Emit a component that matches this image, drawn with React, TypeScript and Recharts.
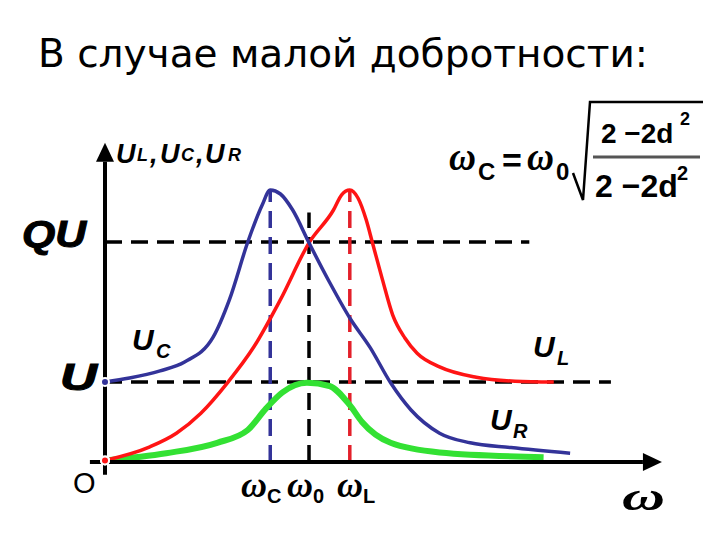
import { ComposedChart, Line, XAxis, YAxis, ReferenceLine } from "recharts";

// frequency axis: ω / ω0 ; voltage axis: U_x / U
const ucW = [0, 0.12, 0.27, 0.39, 0.53, 0.61, 0.7, 0.77, 0.81, 0.86, 0.92, 1.0, 1.1, 1.2, 1.3, 1.4, 1.5, 1.64, 1.79, 1.99, 2.28];
const ucU = [1.0, 1.05, 1.14, 1.25, 1.56, 2.03, 2.75, 3.21, 3.4, 3.35, 3.15, 2.74, 2.25, 1.8, 1.43, 0.99, 0.65, 0.36, 0.24, 0.18, 0.11];

const ulW = [0, 0.22, 0.35, 0.47, 0.6, 0.73, 0.86, 1.0, 1.12, 1.16, 1.2, 1.24, 1.28, 1.31, 1.36, 1.41, 1.47, 1.53, 1.64, 1.82, 2.01, 2.2];
const ulU = [0.02, 0.19, 0.36, 0.61, 0.99, 1.44, 2.03, 2.74, 3.15, 3.34, 3.4, 3.3, 3.03, 2.75, 2.28, 1.84, 1.55, 1.36, 1.19, 1.06, 1.01, 1.0];

const urW = [0, 0.3, 0.55, 0.7, 0.79, 0.87, 0.99, 1.1, 1.2, 1.26, 1.4, 1.64, 2.15];
const urU = [0.02, 0.11, 0.24, 0.4, 0.67, 0.87, 0.99, 0.95, 0.71, 0.5, 0.24, 0.12, 0.06];

// levels U and QU, and where their dashed guides end
const levelU = [1, 2.75];
const levelEnd = [2.48, 2.08];

// ωC, ω0, ωL and the height of their dashed guides
const freqs = [0.81, 1.0, 1.2];
const freqTop = [3.4, 3.12, 3.4];
const freqColors = ["#333399", "#000000", "#e3202a"];

const zip = (w: number[], u: number[]) => w.map((x, i) => ({ w: x, u: u[i] }));
const ucData = zip(ucW, ucU);
const ulData = zip(ulW, ulU);
const urData = zip(urW, urU);

// pixel mapping of the plot (origin at 105,462; 204 px per ω0, 80 px per U)
const X_DOMAIN = [-105 / 204, (720 - 105) / 204];
const Y_DOMAIN = [-(540 - 462) / 80, 462 / 80];

const Arrow = (props: any) => {
  const { x1, y1, x2, y2 } = props;
  const dx = x2 - x1;
  const dy = y2 - y1;
  const len = Math.hypot(dx, dy) || 1;
  const ux = dx / len;
  const uy = dy / len;
  const head = 19;
  const half = 9;
  const bx = x2 - ux * head;
  const by = y2 - uy * head;
  return (
    <g>
      <line x1={x1} y1={y1} x2={bx} y2={by} stroke="#000" strokeWidth={4} />
      <polygon
        points={`${x2},${y2} ${bx - uy * half},${by + ux * half} ${bx + uy * half},${by - ux * half}`}
        fill="#000"
      />
    </g>
  );
};

const sans = "'Liberation Sans', Arial, sans-serif";
const serif = "'Liberation Serif', 'Times New Roman', serif";

function Sub({ x, y, main, sub, size, subSize, dx }: any) {
  return (
    <g fontFamily={sans} fontWeight="bold" fontStyle="italic" fill="#000">
      <text x={x} y={y} fontSize={size}>{main}</text>
      <text x={x + dx} y={y + size * 0.27} fontSize={subSize}>{sub}</text>
    </g>
  );
}

function Omega({ x, y, sub, size = 36 }: any) {
  return (
    <g fill="#000">
      <text x={x} y={y} fontSize={size} fontFamily={serif} fontWeight="bold" fontStyle="italic" textLength={26} lengthAdjust="spacingAndGlyphs">ω</text>
      <text x={x + 26} y={y + 6} fontSize={20} fontFamily={sans} fontWeight="bold">{sub}</text>
    </g>
  );
}

export default function App() {
  return (
    <div style={{ position: "absolute", left: 0, top: 0, width: 720, height: 540, background: "#fff" }}>
      <ComposedChart width={720} height={540} margin={{ top: 0, right: 0, bottom: 0, left: 0 }}>
        <XAxis type="number" dataKey="w" domain={X_DOMAIN} hide allowDataOverflow />
        <YAxis type="number" dataKey="u" domain={Y_DOMAIN} hide allowDataOverflow />
        {levelU.map((v, i) => (
          <ReferenceLine
            key={"h" + i}
            segment={[{ x: 0, y: v }, { x: levelEnd[i], y: v }]}
            stroke="#000"
            strokeWidth={3.5}
            strokeDasharray="17 9"
          />
        ))}
        {freqs.map((f, i) => (
          <ReferenceLine
            key={"v" + i}
            segment={[{ x: f, y: 0 }, { x: f, y: freqTop[i] }]}
            stroke={freqColors[i]}
            strokeWidth={3.5}
            strokeDasharray="17 9"
          />
        ))}
        <Line data={urData} dataKey="u" type="monotone" stroke="#33e133" strokeWidth={6} dot={false} isAnimationActive={false} />
        <Line data={ulData} dataKey="u" type="monotone" stroke="#ff1414" strokeWidth={3.5} dot={false} isAnimationActive={false} />
        <Line data={ucData} dataKey="u" type="monotone" stroke="#333399" strokeWidth={3.5} dot={false} isAnimationActive={false} />
        <ReferenceLine segment={[{ x: -0.074, y: 0 }, { x: 2.73, y: 0 }]} shape={Arrow} />
        <ReferenceLine segment={[{ x: 0, y: -0.16 }, { x: 0, y: 3.99 }]} shape={Arrow} />
      </ComposedChart>

      <svg width={720} height={540} style={{ position: "absolute", left: 0, top: 0, pointerEvents: "none" }}>
        <text x={38} y={67} fontFamily="'DejaVu Sans', Verdana, sans-serif" fontSize={39} fill="#000">
          В случае малой добротности:
        </text>

        {/* axis name */}
        <g fontFamily={sans} fontWeight="bold" fontStyle="italic" fill="#000">
          <text x={116} y={163} fontSize={27}>U</text>
          <text x={137} y={161} fontSize={18}>L</text>
          <text x={150} y={163} fontSize={27}>,</text>
          <text x={160} y={163} fontSize={27}>U</text>
          <text x={181} y={161} fontSize={18}>C</text>
          <text x={196} y={163} fontSize={27}>,</text>
          <text x={205} y={163} fontSize={27}>U</text>
          <text x={228} y={161} fontSize={18}>R</text>
        </g>

        <text x={22} y={247} fontSize={36} fontFamily={sans} fontWeight={900} fontStyle="italic" textLength={64} lengthAdjust="spacingAndGlyphs" stroke="#000" strokeWidth={1}>QU</text>
        <text x={60} y={390} fontSize={36} fontFamily={sans} fontWeight={900} fontStyle="italic" textLength={37} lengthAdjust="spacingAndGlyphs" stroke="#000" strokeWidth={1}>U</text>
        <text x={73} y={493} fontSize={29} fontFamily={sans}>O</text>

        <Sub x={132} y={350} main="U" sub="C" size={30} subSize={20} dx={24} />
        <Sub x={533} y={357} main="U" sub="L" size={30} subSize={20} dx={24} />
        <Sub x={490} y={430} main="U" sub="R" size={30} subSize={20} dx={23} />

        <Omega x={241} y={497} sub="C" />
        <Omega x={287} y={497} sub="0" />
        <Omega x={337} y={497} sub="L" />
        <text x={622} y={510} fontSize={40} fontFamily={serif} fontWeight="bold" fontStyle="italic" textLength={43} lengthAdjust="spacingAndGlyphs">ω</text>

        {/* formula */}
        <g fill="#000">
          <text x={449} y={170} fontSize={40} fontFamily={serif} fontStyle="italic" fontWeight="bold" textLength={27} lengthAdjust="spacingAndGlyphs">ω</text>
          <text x={478} y={180} fontSize={24} fontFamily={sans} fontWeight="bold">C</text>
          <text x={502} y={172} fontSize={34} fontFamily={sans} fontWeight="bold">=</text>
          <text x={527} y={170} fontSize={40} fontFamily={serif} fontStyle="italic" fontWeight="bold" textLength={27} lengthAdjust="spacingAndGlyphs">ω</text>
          <text x={556} y={180} fontSize={24} fontFamily={sans} fontWeight="bold">0</text>
          <path d="M573,173 L583,200 L590,102 L703,102" stroke="#000" strokeWidth={2.5} fill="none" />
          <line x1={593} y1={157} x2={700} y2={157} stroke="#555" strokeWidth={3} />
          <g fontFamily={sans} fontWeight="bold">
            <text x={601} y={143} fontSize={28}>2 −2d</text>
            <text x={680} y={125} fontSize={18}>2</text>
            <text x={595} y={197} fontSize={32}>2 −2d</text>
            <text x={677} y={180} fontSize={20}>2</text>
          </g>
        </g>
      </svg>
    </div>
  );
}
